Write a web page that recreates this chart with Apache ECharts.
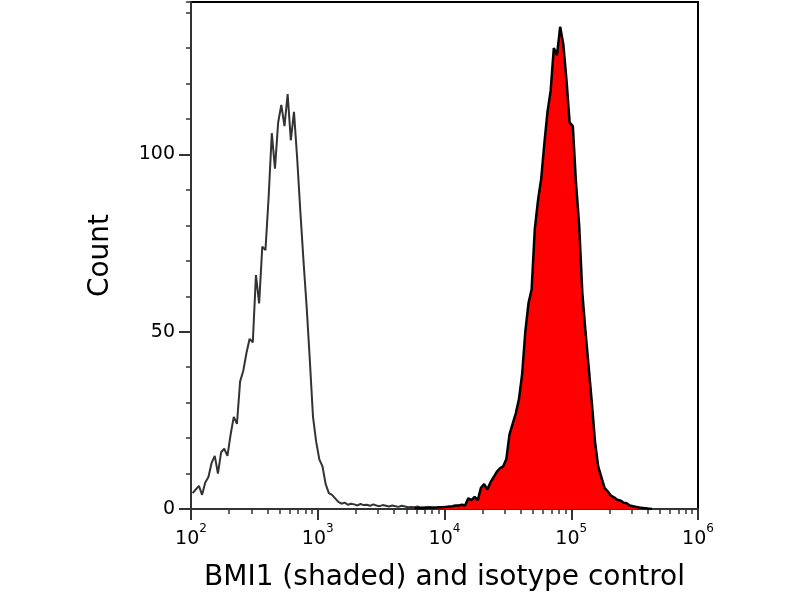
<!DOCTYPE html>
<html lang="en">
<head>
  <meta charset="UTF-8">
  <title>BMI1 flow cytometry histogram</title>
  <style>
    html, body { margin: 0; padding: 0; background: #fff; }
    #chart { width: 800px; height: 600px; }
  </style>
  <script src="https://cdn.jsdelivr.net/npm/echarts@6/dist/echarts.min.js"></script>
</head>
<body>
  <div id="chart"></div>
  <script>
    // histogram bins: 40 per decade, starting at 10^2
    var binsPerDecade = 40;
    var firstExp = 2;

    // isotype control counts, bins 0..95
    var isoStart = 0;
    var isoCounts = [
      4.5, 5.5, 6.5, 4, 7.5, 9, 13, 15, 10, 16,
      17, 15, 21, 26, 24, 36, 39, 44, 48, 47,
      66, 58, 74, 73, 88, 106, 96, 109, 114, 108,
      117, 104, 112, 99, 84, 70, 57, 42, 26, 19,
      14, 12, 7, 4.5, 4, 3, 2, 1.5, 1.8, 1.2,
      1.5, 1.3, 1.0, 1.4, 1.1, 1.2, 0.9, 1.3, 1.0, 0.8,
      1.1, 0.9, 0.7, 1.0, 0.8, 0.6, 0.9, 0.7, 0.5, 0.6,
      0.5, 0.7, 0.4, 0.5, 0.6, 0.4, 0.5, 0.3, 0.5, 0.4,
      0.3, 0.4, 0.3, 0.2, 0.3, 0.2, 0.2, 0.1, 0.2, 0.1,
      0.1, 0, 0.1, 0, 0, 0
    ];

    // BMI1 (shaded) counts, bins 70..145
    var bmiStart = 70;
    var bmiCounts = [
      0.2, 0.2, 0.3, 0.2, 0.3, 0.4, 0.3, 0.4,
      0.5, 0.5, 0.6, 0.7, 0.8, 1, 1, 1.2, 1, 3, 2.5, 3.4,
      2.5, 6, 7, 5.5, 7.5, 9, 10.5, 11.5, 12, 14,
      21, 24, 27, 31, 38, 50, 58, 62, 79, 87,
      93, 103, 112, 118, 130, 128, 136, 131, 121, 109,
      108, 92, 80, 61, 50, 40, 30, 19, 12, 9,
      6, 5, 3.8, 3.3, 2.6, 2.4, 1.8, 1.6, 1, 0.8,
      0.6, 0.4, 0.3, 0.2, 0.1, 0
    ];

    var xMin = 100, xMax = 1000000;
    var yMax = 143;
    var minorMultipliers = [2, 3, 4, 5, 6, 7, 8, 9];

    function toPoints(start, counts) {
      return counts.map(function (c, k) {
        var i = start + k;
        return [Math.pow(10, firstExp + (i + 0.5) / binsPerDecade), c];
      });
    }

    // minor tick positions in log10 space for the helper axis
    var minorTicks = [];
    for (var e = 2; e < 6; e++) {
      minorMultipliers.forEach(function (m) { minorTicks.push(e + Math.log10(m)); });
    }

    var font = 'DejaVu Sans';
    var chart = echarts.init(document.getElementById('chart'));
    var option = {
      animation: false,
      grid: {
        left: 191, right: 102, top: 2, bottom: 91,
        show: true, borderColor: '#000', borderWidth: 2
      },
      xAxis: [{
        type: 'log', logBase: 10, min: xMin, max: xMax,
        name: 'BMI1 (shaded) and isotype control',
        nameLocation: 'middle', nameGap: 55,
        nameTextStyle: { fontFamily: font, fontSize: 28, color: '#000' },
        axisLine: { lineStyle: { color: '#333', width: 2 } },
        axisTick: { length: 11, lineStyle: { color: '#333', width: 2 } },
        splitLine: { show: false },
        axisLabel: {
          margin: 14,
          formatter: function (v) {
            return '{b|10}{s|' + Math.round(Math.log10(v)) + '}';
          },
          rich: {
            b: { fontFamily: font, fontSize: 19, color: '#000', lineHeight: 26, verticalAlign: 'bottom' },
            s: { fontFamily: font, fontSize: 12, color: '#000', lineHeight: 12, verticalAlign: 'top' }
          }
        }
      }, {
        type: 'value', min: 2, max: 6, position: 'bottom',
        axisLine: { show: false },
        axisLabel: { show: false },
        splitLine: { show: false },
        axisTick: {
          show: true, length: 5, customValues: minorTicks,
          lineStyle: { color: '#333', width: 1.5 }
        }
      }],
      yAxis: [{
        type: 'value', min: 0, max: yMax, interval: 50,
        name: 'Count', nameLocation: 'middle', nameGap: 76, nameRotate: 90,
        nameTextStyle: { fontFamily: font, fontSize: 28, color: '#000' },
        axisLine: { show: true, lineStyle: { color: '#333', width: 2 } },
        axisTick: { show: true, length: 12, lineStyle: { color: '#333', width: 2 } },
        splitLine: { show: false },
        axisLabel: {
          margin: 16, fontFamily: font, fontSize: 19, color: '#000',
          showMaxLabel: false
        }
      }, {
        type: 'value', min: 0, max: yMax, interval: 10, position: 'left',
        axisLine: { show: false },
        axisLabel: { show: false },
        splitLine: { show: false },
        axisTick: { show: true, length: 5, lineStyle: { color: '#333', width: 1.5 } }
      }],
      series: [{
        name: 'isotype control',
        type: 'line',
        xAxisIndex: 0, yAxisIndex: 0,
        data: toPoints(isoStart, isoCounts),
        showSymbol: false,
        lineStyle: { color: '#333', width: 2 },
        z: 2
      }, {
        name: 'BMI1',
        type: 'line',
        xAxisIndex: 0, yAxisIndex: 0,
        data: toPoints(bmiStart, bmiCounts),
        showSymbol: false,
        lineStyle: { color: '#000', width: 2.5 },
        areaStyle: { color: '#ff0000', opacity: 1 },
        z: 3
      }]
    };
    chart.setOption(option);
  </script>
</body>
</html>
